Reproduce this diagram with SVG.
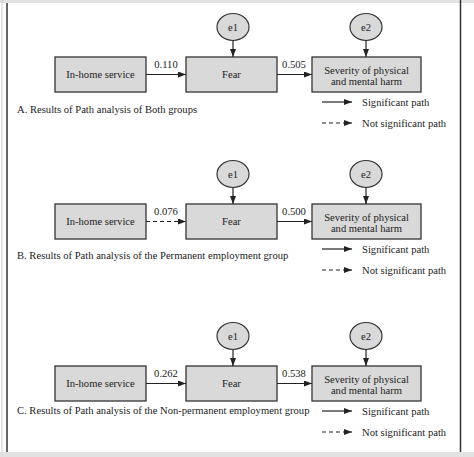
<svg xmlns="http://www.w3.org/2000/svg" width="474" height="457" viewBox="0 0 474 457">
<style>
text{font-family:"Liberation Serif","Times New Roman",serif;font-size:10.6px;fill:#222}
.c{text-anchor:middle}
.box{fill:#d9d9d9;stroke:#333;stroke-width:1.3}
.err{fill:#d9d9d9;stroke:#333;stroke-width:1.2}
.ln{stroke:#222;stroke-width:1.2;fill:none}
.dash{stroke-dasharray:4 3}
</style>
<defs>
<marker id="ah" viewBox="0 0 8 6" refX="8" refY="3" markerWidth="8" markerHeight="6" markerUnits="userSpaceOnUse" orient="auto">
<path d="M0,0 L8,3 L0,6 Z" fill="#222"/>
</marker>
</defs>
<rect x="0" y="0" width="474" height="457" fill="#fff"/>
<rect x="0" y="0" width="474" height="3" fill="#e2e2e2"/>
<rect x="0" y="452" width="474" height="5" fill="#e2e2e2"/>
<line x1="2" y1="0" x2="2" y2="452" stroke="#ccc" stroke-width="1"/>
<line x1="7" y1="3" x2="7" y2="452" stroke="#333" stroke-width="1.5"/>
<line x1="460.5" y1="0" x2="460.5" y2="452" stroke="#333" stroke-width="1.5"/>

<!-- Panel A -->
<g id="A-inhome"><rect class="box" x="55" y="57" width="91" height="35"/><text class="c" x="100.5" y="78">In-home service</text></g>
<g id="A-fear"><rect class="box" x="186" y="57" width="91" height="35"/><text class="c" x="231.5" y="78">Fear</text></g>
<g id="A-severity"><rect class="box" x="312" y="57" width="109" height="35"/><text class="c" x="366.5" y="73.5">Severity of physical</text><text class="c" x="366.5" y="84.5">and mental harm</text></g>
<g id="A-e1"><ellipse class="err" cx="233" cy="27" rx="16" ry="13.5"/><text class="c" x="233" y="30.5">e1</text></g>
<g id="A-e2"><ellipse class="err" cx="366" cy="27" rx="16" ry="13.5"/><text class="c" x="366" y="30.5">e2</text></g>
<g id="A-connectors">
<line class="ln" x1="146" y1="74.5" x2="186" y2="74.5" marker-end="url(#ah)"/>
<line class="ln" x1="277" y1="74.5" x2="312" y2="74.5" marker-end="url(#ah)"/>
<line class="ln" x1="233" y1="40.5" x2="233" y2="57" marker-end="url(#ah)"/>
<line class="ln" x1="366" y1="40.5" x2="366" y2="57" marker-end="url(#ah)"/>
<text class="c" x="166" y="68">0.110</text>
<text class="c" x="294" y="68">0.505</text>
</g>
<g id="A-legend">
<line class="ln" x1="322" y1="102" x2="352" y2="102" marker-end="url(#ah)"/>
<text x="362" y="106">Significant path</text>
<line class="ln dash" x1="322" y1="123" x2="352" y2="123" marker-end="url(#ah)"/>
<text x="362" y="127">Not significant path</text>
</g>
<text x="17" y="113">A. Results of Path analysis of Both groups</text>

<!-- Panel B -->
<g id="B-inhome"><rect class="box" x="55" y="204" width="91" height="35"/><text class="c" x="100.5" y="225">In-home service</text></g>
<g id="B-fear"><rect class="box" x="186" y="204" width="91" height="35"/><text class="c" x="231.5" y="225">Fear</text></g>
<g id="B-severity"><rect class="box" x="312" y="204" width="109" height="35"/><text class="c" x="366.5" y="220.5">Severity of physical</text><text class="c" x="366.5" y="231.5">and mental harm</text></g>
<g id="B-e1"><ellipse class="err" cx="233" cy="174" rx="16" ry="13.5"/><text class="c" x="233" y="177.5">e1</text></g>
<g id="B-e2"><ellipse class="err" cx="366" cy="174" rx="16" ry="13.5"/><text class="c" x="366" y="177.5">e2</text></g>
<g id="B-connectors">
<line class="ln dash" x1="146" y1="221.5" x2="186" y2="221.5" marker-end="url(#ah)"/>
<line class="ln" x1="277" y1="221.5" x2="312" y2="221.5" marker-end="url(#ah)"/>
<line class="ln" x1="233" y1="187.5" x2="233" y2="204" marker-end="url(#ah)"/>
<line class="ln" x1="366" y1="187.5" x2="366" y2="204" marker-end="url(#ah)"/>
<text class="c" x="166" y="215">0.076</text>
<text class="c" x="294" y="215">0.500</text>
</g>
<g id="B-legend">
<line class="ln" x1="322" y1="249" x2="352" y2="249" marker-end="url(#ah)"/>
<text x="362" y="253">Significant path</text>
<line class="ln dash" x1="322" y1="270" x2="352" y2="270" marker-end="url(#ah)"/>
<text x="362" y="274">Not significant path</text>
</g>
<text x="17" y="259">B. Results of Path analysis of the Permanent employment group</text>

<!-- Panel C -->
<g id="C-inhome"><rect class="box" x="55" y="366" width="91" height="35"/><text class="c" x="100.5" y="387">In-home service</text></g>
<g id="C-fear"><rect class="box" x="186" y="366" width="91" height="35"/><text class="c" x="231.5" y="387">Fear</text></g>
<g id="C-severity"><rect class="box" x="312" y="366" width="109" height="35"/><text class="c" x="366.5" y="382.5">Severity of physical</text><text class="c" x="366.5" y="393.5">and mental harm</text></g>
<g id="C-e1"><ellipse class="err" cx="233" cy="336" rx="16" ry="13.5"/><text class="c" x="233" y="339.5">e1</text></g>
<g id="C-e2"><ellipse class="err" cx="366" cy="336" rx="16" ry="13.5"/><text class="c" x="366" y="339.5">e2</text></g>
<g id="C-connectors">
<line class="ln" x1="146" y1="383.5" x2="186" y2="383.5" marker-end="url(#ah)"/>
<line class="ln" x1="277" y1="383.5" x2="312" y2="383.5" marker-end="url(#ah)"/>
<line class="ln" x1="233" y1="349.5" x2="233" y2="366" marker-end="url(#ah)"/>
<line class="ln" x1="366" y1="349.5" x2="366" y2="366" marker-end="url(#ah)"/>
<text class="c" x="166" y="377">0.262</text>
<text class="c" x="294" y="377">0.538</text>
</g>
<g id="C-legend">
<line class="ln" x1="322" y1="411" x2="352" y2="411" marker-end="url(#ah)"/>
<text x="362" y="415">Significant path</text>
<line class="ln dash" x1="322" y1="432" x2="352" y2="432" marker-end="url(#ah)"/>
<text x="362" y="436">Not significant path</text>
</g>
<text x="17" y="414">C. Results of Path analysis of the Non-permanent employment group</text>
</svg>
